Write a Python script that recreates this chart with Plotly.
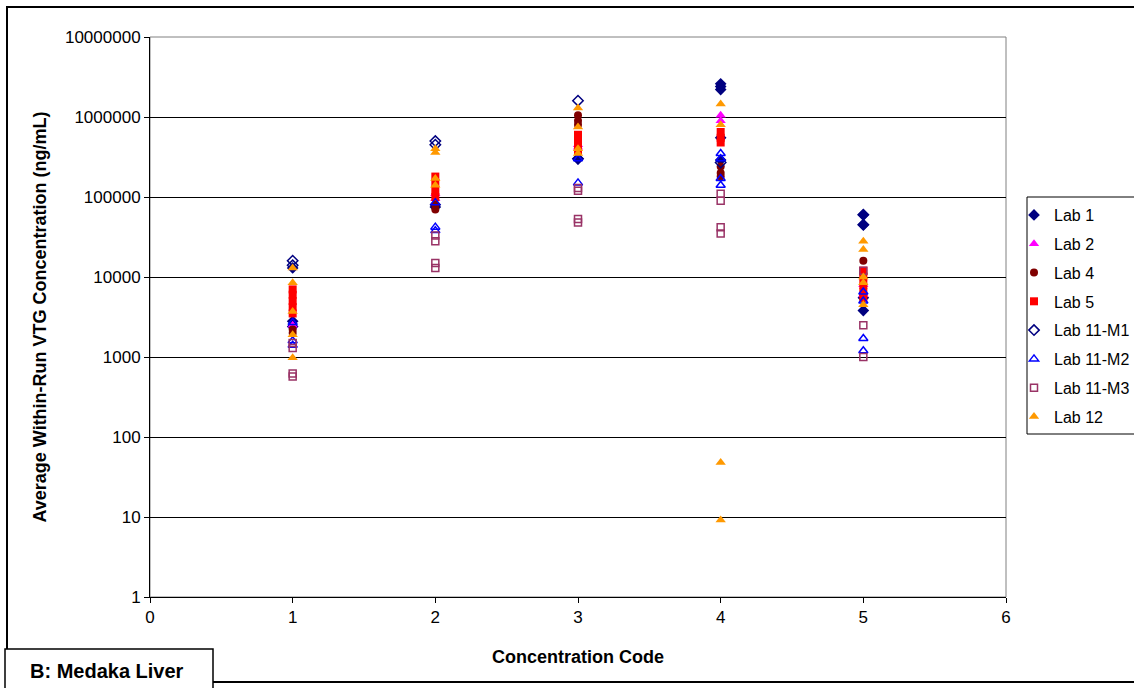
import plotly.graph_objects as go

# ---- data ----
lab1_x = [1, 1, 1, 2, 2, 3, 4, 4, 4, 4, 4, 5, 5, 5, 5]
lab1_y = [13000, 2800, 2400, 80000, 75000, 300000, 2600000, 2400000, 2200000, 550000, 290000, 60000, 45000, 5500, 3800]

lab2_x = [1, 2, 2, 3, 3, 4, 4, 5, 5]
lab2_y = [2500, 95000, 110000, 420000, 450000, 1050000, 900000, 8000, 6000]

lab4_x = [1, 1, 2, 2, 3, 3, 3, 4, 4, 4, 5, 5]
lab4_y = [2200, 2000, 70000, 80000, 1050000, 900000, 800000, 240000, 200000, 180000, 16000, 11000]

lab5_x = [1, 1, 1, 1, 1, 2, 2, 2, 2, 3, 3, 3, 3, 4, 4, 4, 5, 5, 5, 5, 5]
lab5_y = [7000, 6000, 5000, 4200, 3500, 180000, 150000, 120000, 100000, 600000, 500000, 420000, 380000,
          650000, 550000, 480000, 12000, 10000, 8000, 6500, 5500]

lab11m1_x = [1, 1, 2, 2, 3, 3, 4, 5, 5]
lab11m1_y = [16000, 14000, 500000, 450000, 1600000, 300000, 270000, 60000, 45000]

lab11m2_x = [1, 1, 1, 2, 2, 2, 3, 3, 4, 4, 4, 4, 5, 5, 5, 5]
lab11m2_y = [2700, 1600, 1400, 85000, 42000, 38000, 150000, 300000, 350000, 300000, 170000, 140000, 6500, 5000, 1700, 1200]

lab11m3_x = [1, 1, 1, 1, 2, 2, 2, 2, 3, 3, 3, 3, 4, 4, 4, 4, 5, 5, 5]
lab11m3_y = [1500, 1300, 620, 570, 33000, 28000, 15000, 13000, 130000, 120000, 53000, 48000,
             110000, 90000, 42000, 35000, 12000, 2500, 1000]

lab12_x = [1, 1, 1, 1, 1, 2, 2, 2, 2, 3, 3, 3, 3, 4, 4, 4, 4, 5, 5, 5, 5, 5]
lab12_y = [13000, 8500, 3700, 1900, 980, 400000, 360000, 170000, 140000, 1300000, 750000, 400000, 350000,
           1450000, 800000, 48, 9.2, 28000, 22000, 10000, 8500, 4500]

y_tick_vals = [1, 10, 100, 1000, 10000, 100000, 1000000, 10000000]
y_tick_text = ["1", "10", "100", "1000", "10000", "100000", "1000000", "10000000"]
x_tick_vals = [0, 1, 2, 3, 4, 5, 6]

series = [
    ("Lab 1", lab1_x, lab1_y, "diamond", "#000080", 9),
    ("Lab 2", lab2_x, lab2_y, "triangle-up", "#FF00FF", 9),
    ("Lab 4", lab4_x, lab4_y, "circle", "#800000", 8),
    ("Lab 5", lab5_x, lab5_y, "square", "#FF0000", 8),
    ("Lab 11-M1", lab11m1_x, lab11m1_y, "diamond-open", "#000080", 8),
    ("Lab 11-M2", lab11m2_x, lab11m2_y, "triangle-up-open", "#0000FF", 8),
    ("Lab 11-M3", lab11m3_x, lab11m3_y, "square-open", "#993366", 7),
    ("Lab 12", lab12_x, lab12_y, "triangle-up", "#FF9900", 9),
]

fig = go.Figure()
for i, (name, xs, ys, sym, col, sz) in enumerate(series):
    fig.add_trace(go.Scatter(
        x=xs, y=ys, mode="markers", name=name, legendgroup=f"g{i}",
        marker=dict(symbol=sym, color=col, size=sz,
                    line=dict(color=col, width=1.5 if "open" in sym else 0)),
    ))

L, R, T, B = 150, 128, 37, 91
W, H = 1134, 688
pw, ph = W - L - R, H - T - B


def px(x):
    return (x - L) / pw


def py(y):
    return (H - B - y) / ph


fig.update_layout(
    width=W, height=H,
    margin=dict(l=L, r=R, t=T, b=B, autoexpand=False),
    paper_bgcolor="white", plot_bgcolor="white",
    font=dict(family="Arial, Liberation Sans, sans-serif", size=17, color="black"),
    showlegend=True,
    legend=dict(xref="container", yref="container", x=1014 / W, y=(H - 198) / H,
                xanchor="left", yanchor="top",
                bgcolor="rgba(0,0,0,0)", borderwidth=0,
                font=dict(size=16), tracegroupgap=5, traceorder="grouped",
                itemwidth=30),
    xaxis=dict(range=[0, 6], tickvals=x_tick_vals, showgrid=False, zeroline=False,
               showline=True, linecolor="black", linewidth=1,
               ticks="outside", ticklen=5, tickcolor="black",
               title=dict(text="<b>Concentration Code</b>", font=dict(size=18), standoff=23)),
    yaxis=dict(type="log", range=[0, 7], tickvals=y_tick_vals, ticktext=y_tick_text,
               showgrid=True, gridcolor="black", gridwidth=1, zeroline=False,
               showline=True, linecolor="black", linewidth=1,
               ticks="outside", ticklen=5, tickcolor="black",
               title=dict(text="<b>Average Within-Run VTG Concentration (ng/mL)</b>",
                          font=dict(size=18), standoff=13)),
    shapes=[
        dict(type="rect", xref="paper", yref="paper",
             x0=px(7), x1=px(1140), y0=py(682), y1=py(7),
             line=dict(color="black", width=2), fillcolor="rgba(0,0,0,0)", layer="below"),
        dict(type="rect", xref="paper", yref="paper", x0=0, x1=1, y0=0, y1=1,
             line=dict(color="#808080", width=1), fillcolor="rgba(0,0,0,0)", layer="below"),
        dict(type="rect", xref="paper", yref="paper",
             x0=px(1027), x1=px(1140), y0=py(434), y1=py(197),
             line=dict(color="black", width=1), fillcolor="white", layer="below"),
        dict(type="rect", xref="paper", yref="paper",
             x0=px(5), x1=px(213), y0=py(692), y1=py(649),
             line=dict(color="black", width=1.5), fillcolor="white", layer="above"),
    ],
    annotations=[
        dict(text="<b>B: Medaka Liver</b>", xref="paper", yref="paper",
             x=px(107), y=py(671), xanchor="center", yanchor="middle",
             showarrow=False, font=dict(size=20)),
    ],
)

fig.write_html("out.html", config={"displayModeBar": False},
               post_script="document.body.style.margin='0';")
